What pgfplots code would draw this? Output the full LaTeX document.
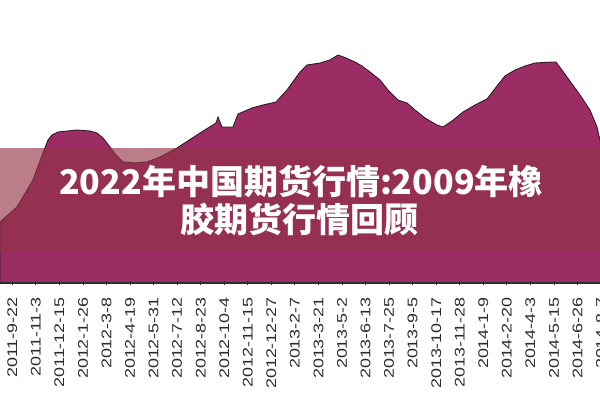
\documentclass[border=0pt]{standalone}
\usepackage{pgfplots}
\pgfplotsset{compat=1.18}
\usepackage{pgfplotstable}
\usepackage{fontspec}
\setmainfont{Liberation Sans}
\newfontfamily\tickfont[FakeStretch=1.28]{Liberation Sans}
\newfontfamily\cjk{Noto Sans CJK SC}
\definecolor{areacol}{RGB}{155,45,100}
\definecolor{edgecol}{RGB}{50,25,40}
\definecolor{bannercol}{RGB}{147,51,70}
\definecolor{tickcol}{RGB}{45,45,45}

\pgfplotstableread{
x y
-0.522 61
0.200 76
0.879 103
1.304 130
1.516 143
1.686 148
1.941 151
2.747 153
3.299 152
3.597 150
3.851 145
4.149 136
4.403 128
4.701 121
5.210 120
5.720 121
6.272 126
6.994 135
7.970 150
8.650 160
8.735 166
8.904 156
9.372 156
9.584 169
10.178 175
10.645 178
11.197 181
11.664 193
12.217 211
12.514 218
13.066 220
13.490 223
13.830 228
14.170 225
14.552 221
14.849 217
15.189 211
15.614 203
15.953 193
16.378 183
16.760 180
17.100 173
17.524 165
18.034 158
18.289 156
18.671 162
19.138 171
19.648 178
20.157 184
20.582 197
20.921 207
21.346 213
21.771 217
22.195 220
22.917 221
23.087 221
23.554 206
24.106 188
24.531 173
24.828 156
24.955 143
25.168 123
25.400 100
}\pricedata

\begin{document}
\begin{tikzpicture}
\useasboundingbox (0pt,-117pt) rectangle (600pt,283pt);
\clip (0pt,-117pt) rectangle (600pt,283pt);
\begin{axis}[
  at={(0pt,0pt)}, anchor=south west,
  scale only axis,
  width=605.75pt, height=283pt,
  xmin=-0.522, xmax=25.2,
  ymin=0, ymax=283,
  hide y axis,
  axis x line*=bottom,
  axis on top=true,
  axis line style={tickcol, line width=1.2pt},
  xtick={0,...,25},
  xticklabels={2011-9-22,2011-11-3,2011-12-15,2012-1-26,2012-3-8,2012-4-19,2012-5-31,2012-7-12,2012-8-23,2012-10-4,2012-11-15,2012-12-27,2013-2-7,2013-3-21,2013-5-2,2013-6-13,2013-7-25,2013-9-5,2013-10-17,2013-11-28,2014-1-9,2014-2-20,2014-4-3,2014-5-15,2014-6-26,2014-8-7},
  xtick align=center,
  major tick length=4pt,
  xtick style={tickcol, line width=0.8pt},
  xticklabel style={yshift=-12pt, rotate=90, anchor=east, inner sep=0pt, text=tickcol, font=\tickfont\fontsize{14}{16}\selectfont},
]
\addplot[fill=areacol, draw=edgecol, line width=0.9pt] table[x=x,y=y] {\pricedata} \closedcycle;
\end{axis}
\fill[bannercol, opacity=0.64] (0pt,31pt) rectangle (600pt,135pt);
\node[text=white, font=\cjk\bfseries\fontsize{34}{40}\selectfont, inner sep=0pt] at (301pt,102pt) {2022年中国期货行情:2009年橡};
\node[text=white, font=\cjk\bfseries\fontsize{34}{40}\selectfont, inner sep=0pt] at (299pt,63pt) {胶期货行情回顾};
\end{tikzpicture}
\end{document}
